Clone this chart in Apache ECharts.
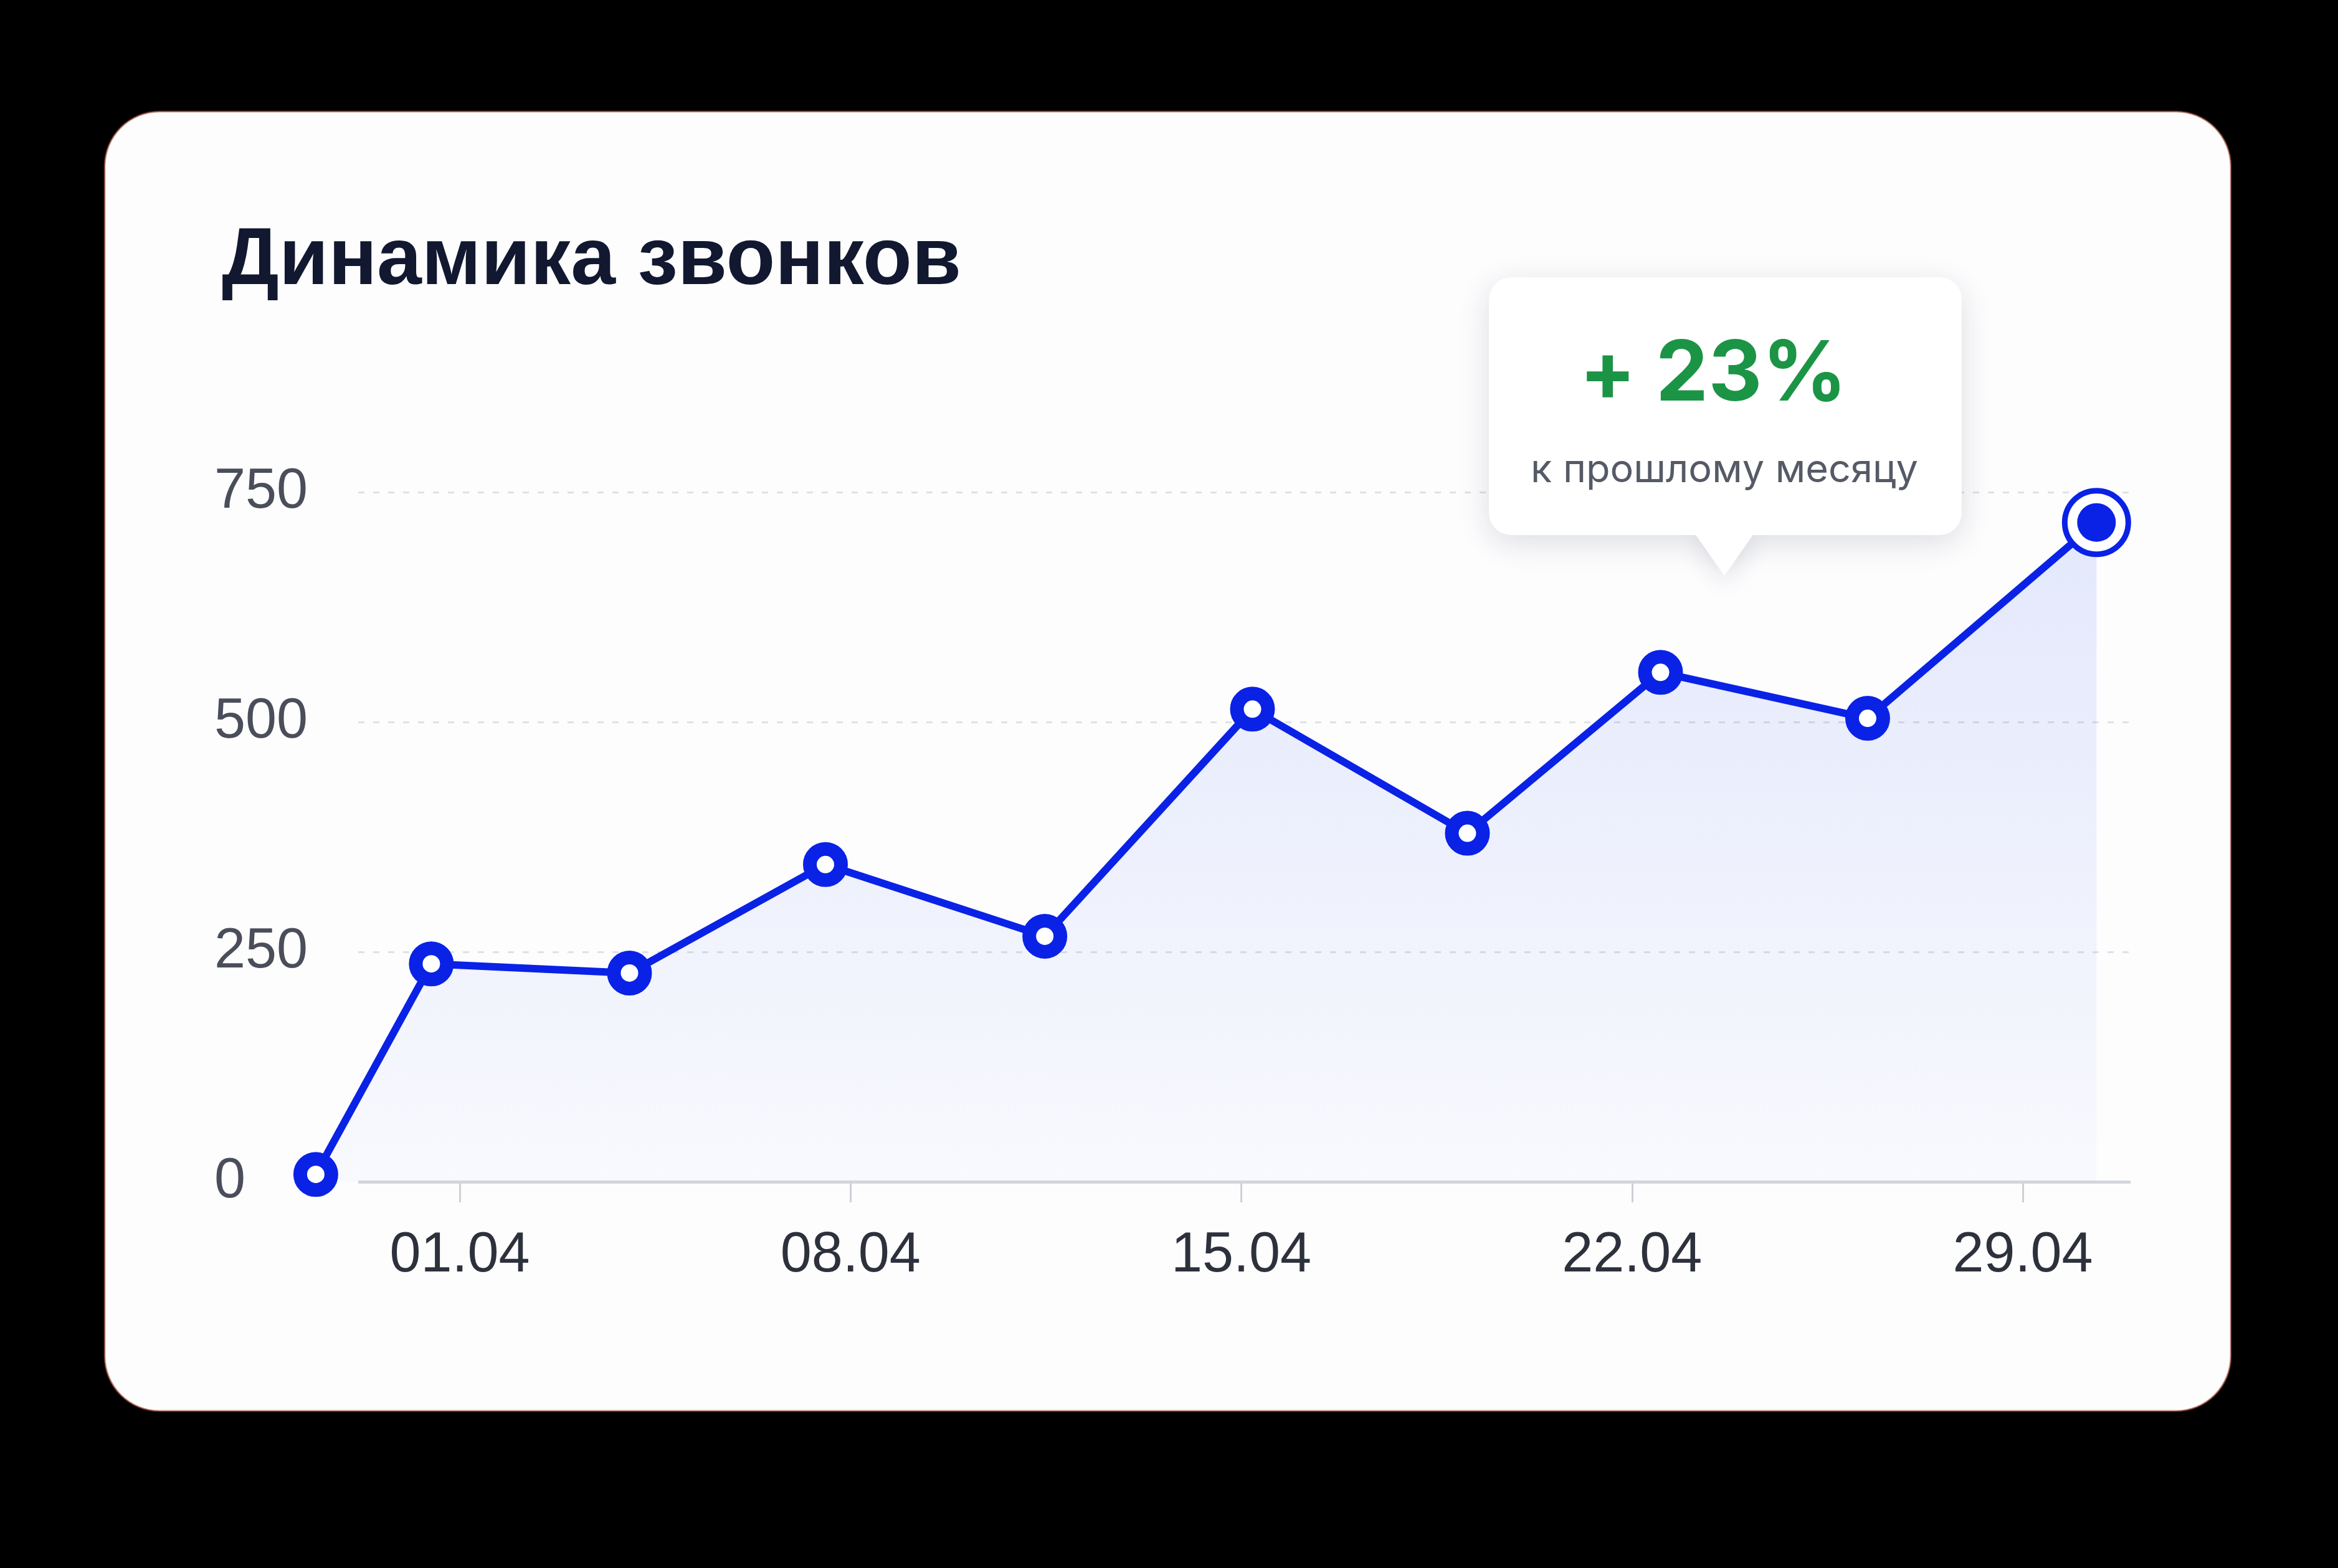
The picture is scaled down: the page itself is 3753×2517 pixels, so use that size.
<!DOCTYPE html>
<html>
<head>
<meta charset="utf-8">
<script src="https://cdn.jsdelivr.net/npm/echarts@6/dist/echarts.min.js"></script>
<style>
html,body{margin:0;padding:0;background:#000;}
#chart{width:3753px;height:2517px;}
</style>
</head>
<body>
<div id="chart"></div>
<script>
// ---- data ----
const titleText = 'Динамика звонков';
const days = [-1.58, 0.49, 4.04, 7.55, 11.48, 15.20, 19.05, 22.51, 26.22, 30.32]; // day of April
const calls = [8, 237, 227, 345, 267, 514, 379, 554, 504, 717];
const tickDays = [1, 8, 15, 22, 29];
const tickLabels = ['01.04', '08.04', '15.04', '22.04', '29.04'];
const yTicks = [0, 250, 500, 750];
const changeValue = '+ 23%';
const changeCaption = 'к прошлому месяцу';

// axis extent (days) and the span of the drawn axis / grid lines
const xMin = -1.88, xMax = 30.93;
const ruleStart = -0.82, ruleEnd = 30.93;

// ---- styles ----
const BLUE = '#0a22e6';
const last = days.length - 1;

const lineData = days.map((d, i) => {
  if (i === last) {
    return {
      value: [d, calls[i]],
      symbolSize: 102,
      itemStyle: { color: '#ffffff', borderColor: BLUE, borderWidth: 9 }
    };
  }
  return [d, calls[i]];
});

const ruleLines = yTicks.map(v => {
  const isBase = v === yTicks[0];
  return [
    {
      coord: [ruleStart, v],
      lineStyle: isBase
        ? { color: '#d4d6dc', width: 5, type: 'solid' }
        : { color: '#dfe1e6', width: 3, type: [10, 14] }
    },
    { coord: [ruleEnd, v] }
  ];
});

const chart = echarts.init(document.getElementById('chart'), null, { renderer: 'canvas' });

const option = {
  animation: false,
  backgroundColor: '#000000',
  grid: { left: 480, right: 333, top: 790, bottom: 2517 - 1897, containLabel: false },
  xAxis: {
    type: 'value',
    min: xMin,
    max: xMax,
    axisLine: { show: false },
    axisTick: { show: true, customValues: tickDays, length: 33, lineStyle: { color: '#cdd0d6', width: 3 } },
    axisLabel: {
      show: true,
      customValues: tickDays,
      formatter: v => tickLabels[tickDays.indexOf(Math.round(v))] || '',
      fontFamily: 'Liberation Sans',
      fontSize: 90,
      lineHeight: 90,
      color: '#2d313c',
      margin: 74
    },
    splitLine: { show: false }
  },
  yAxis: {
    type: 'value',
    min: yTicks[0],
    max: yTicks[yTicks.length - 1],
    interval: yTicks[1] - yTicks[0],
    axisLine: { show: false },
    axisTick: { show: false },
    axisLabel: {
      fontFamily: 'Liberation Sans',
      fontSize: 90,
      color: '#4a4e5a',
      align: 'left',
      margin: 136
    },
    splitLine: { show: false }
  },
  series: [
    {
      type: 'line',
      data: lineData,
      showSymbol: false,
      lineStyle: { opacity: 0 },
      silent: true,
      z: 1,
      markLine: {
        silent: true,
        z: 1,
        symbol: ['none', 'none'],
        label: { show: false },
        emphasis: { disabled: true },
        data: ruleLines
      }
    },
    {
      type: 'line',
      data: lineData,
      symbol: 'circle',
      symbolSize: 50,
      showAllSymbol: true,
      lineStyle: { color: BLUE, width: 12 },
      itemStyle: { color: '#ffffff', borderColor: BLUE, borderWidth: 22 },
      areaStyle: {
        color: new echarts.graphic.LinearGradient(0, 0, 0, 1, [
          { offset: 0, color: 'rgba(45,85,235,0.18)' },
          { offset: 1, color: 'rgba(45,85,235,0.03)' }
        ])
      },
      z: 3
    },
    {
      type: 'scatter',
      data: [[days[last], calls[last]]],
      symbol: 'circle',
      symbolSize: 62,
      itemStyle: { color: BLUE, opacity: 1 },
      z: 5
    }
  ],
  graphic: [
    {
      type: 'rect',
      z: -10,
      silent: true,
      shape: { x: 168, y: 179, width: 3413, height: 2086, r: 88 },
      style: { fill: '#fdfdfe', stroke: 'rgba(160,70,50,0.55)', lineWidth: 3 }
    },
    {
      type: 'text',
      z: 10,
      left: 356,
      top: 356,
      style: {
        text: titleText,
        fontFamily: 'Liberation Sans',
        fontWeight: 'bold',
        fontSize: 129,
        fill: '#111830'
      }
    },
    {
      type: 'group',
      z: 50,
      children: [
        {
          type: 'polygon',
          z: 50,
          shape: { points: [[2720, 855], [2816, 855], [2768, 924]] },
          style: { fill: '#ffffff', shadowBlur: 40, shadowColor: 'rgba(20,30,60,0.14)', shadowOffsetY: 10 }
        },
        {
          type: 'rect',
          z: 51,
          shape: { x: 2390, y: 445, width: 759, height: 414, r: 36 },
          style: { fill: '#ffffff', shadowBlur: 50, shadowColor: 'rgba(20,30,60,0.14)', shadowOffsetY: 12 }
        },
        {
          type: 'polygon',
          z: 52,
          shape: { points: [[2716, 850], [2820, 850], [2768, 924]] },
          style: { fill: '#ffffff' }
        },
        {
          type: 'text',
          z: 53,
          x: 2750,
          y: 603,
          style: {
            text: changeValue,
            fontFamily: 'Inter',
            fontWeight: 'bold',
            fontSize: 134,
            fill: '#1b9446',
            align: 'center',
            verticalAlign: 'middle'
          }
        },
        {
          type: 'text',
          z: 53,
          x: 2768,
          y: 755,
          style: {
            text: changeCaption,
            fontFamily: 'Inter',
            fontSize: 63,
            fill: '#555a66',
            align: 'center',
            verticalAlign: 'middle'
          }
        }
      ]
    }
  ]
};

chart.setOption(option);
</script>
</body>
</html>
